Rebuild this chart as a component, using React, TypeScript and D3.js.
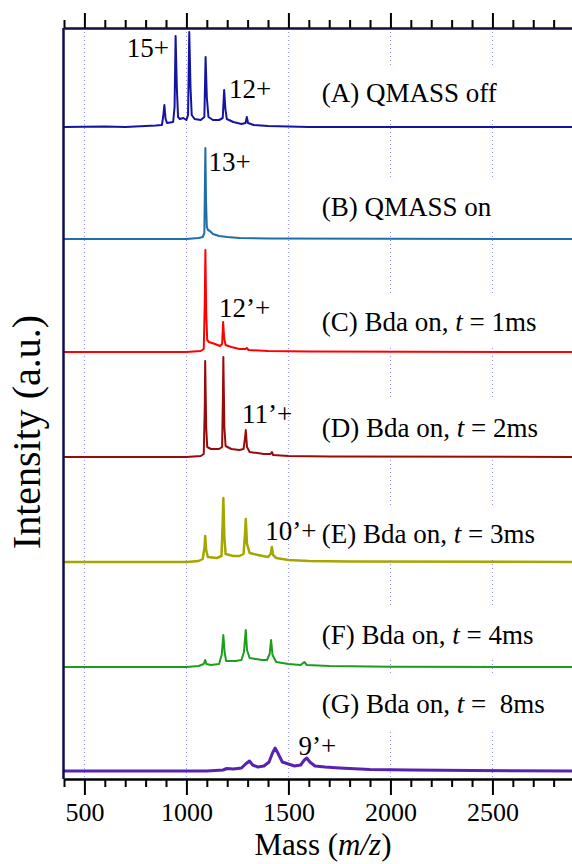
import React, { useEffect, useRef } from 'react';
import * as d3 from 'd3';

// spectra: [m/z, intensity above the trace's own baseline]
const traceA: [number, number][] = [
  [400, 0], [600, 0.5], [700, 0], [800, 1], [850, 1.5], [880, 2], [886, 10], [892, 22], [898, 8],
  [905, 4], [935, 5], [942, 20], [947, 91], [953, 40], [959, 10], [968, 8], [985, 9], [1000, 7],
  [1008, 12], [1014, 95], [1020, 40], [1026, 12], [1040, 8], [1070, 7], [1088, 10], [1094, 70],
  [1100, 30], [1108, 10], [1130, 7], [1160, 7], [1178, 9], [1185, 37], [1191, 18], [1198, 8],
  [1230, 5], [1270, 3], [1290, 4], [1296, 10], [1302, 4], [1330, 2], [1400, 1], [1500, 0.5],
  [1600, 0], [2890, 0],
];
const traceB: [number, number][] = [
  [400, 0], [900, 0], [1000, 0], [1060, 1], [1080, 2], [1088, 6], [1091, 60], [1093, 91],
  [1096, 40], [1100, 12], [1106, 9], [1115, 8], [1130, 5], [1160, 3], [1200, 2], [1260, 1],
  [1400, 0.5], [2890, 0],
];
const traceC: [number, number][] = [
  [400, 0], [1000, 0], [1070, 1], [1085, 3], [1090, 50], [1093, 102], [1097, 40], [1102, 12],
  [1110, 10], [1140, 8], [1165, 6], [1175, 8], [1180, 30], [1185, 14], [1192, 7], [1220, 5],
  [1260, 3], [1290, 3], [1296, 4], [1305, 2], [1400, 1], [1600, 0.5], [2890, 0],
];
const traceD: [number, number][] = [
  [400, 0], [1000, 0], [1070, 1], [1085, 3], [1090, 50], [1092, 96], [1097, 30], [1102, 10],
  [1120, 8], [1160, 8], [1175, 10], [1179, 60], [1181, 100], [1186, 30], [1192, 11], [1220, 8],
  [1260, 7], [1280, 8], [1288, 20], [1291, 27], [1297, 10], [1310, 5], [1380, 3], [1412, 3],
  [1419, 5], [1425, 2], [1500, 1], [1700, 0.5], [2890, 0],
];
const traceE: [number, number][] = [
  [400, 0], [1000, 0], [1060, 1], [1080, 3], [1089, 15], [1092, 26], [1097, 12], [1105, 5],
  [1150, 4], [1172, 6], [1178, 40], [1181, 64], [1186, 25], [1192, 8], [1230, 6], [1260, 6],
  [1280, 8], [1288, 30], [1291, 43], [1297, 18], [1310, 9], [1350, 7], [1400, 5], [1413, 8],
  [1419, 15], [1425, 7], [1440, 4], [1500, 2], [1600, 1], [1800, 0.5], [2890, 0],
];
const traceF: [number, number][] = [
  [400, 0], [1000, 0], [1060, 1], [1085, 3], [1092, 7], [1098, 3], [1120, 2], [1160, 3],
  [1173, 12], [1181, 32], [1187, 15], [1195, 6], [1240, 6], [1270, 7], [1282, 15], [1291, 37],
  [1297, 17], [1310, 9], [1340, 8], [1370, 7], [1395, 7], [1408, 13], [1415, 27], [1422, 12],
  [1440, 5], [1500, 3], [1560, 2], [1578, 5], [1590, 2], [1700, 1], [2000, 0.3], [2890, 0],
];
const traceG: [number, number][] = [
  [400, 0], [1100, 0], [1180, 1], [1198, 2.5], [1230, 2], [1270, 3], [1290, 7], [1309, 10],
  [1325, 6], [1350, 4], [1380, 5], [1405, 9], [1422, 18], [1435, 23], [1448, 18], [1470, 9],
  [1500, 7], [1530, 5], [1560, 6], [1578, 11], [1590, 13], [1605, 9], [1630, 5], [1680, 4],
  [1750, 3], [1800, 2.5], [1900, 1.5], [2100, 1], [2400, 0.5], [2890, 0],
];

const traces = [traceA, traceB, traceC, traceD, traceE, traceF, traceG];
// vertical offset of each trace (stacked display)
const offsets = [644, 532, 419, 314, 209, 104, 0];
const colors = ['#1414a0', '#1f6ea8', '#ff0000', '#990a0a', '#a6a600', '#1c9e1c', '#5a22b0'];
const widths = [2, 2, 2, 2, 2.5, 2, 3];

const panelLabels = [
  ['(A) QMASS off'],
  ['(B) QMASS on'],
  ['(C) Bda on, ', '1ms'],
  ['(D) Bda on, ', '2ms'],
  ['(E) Bda on, ', '3ms'],
  ['(F) Bda on, ', '4ms'],
  ['(G) Bda on, ', ' 8ms'],
];
const panelLabelLevels = [25, 23, 21, 20, 19, 23, 58];
const panelLabelMass = 1663;

const peakLabels = [
  { text: '15+', trace: 0, mass: 708, level: 70 },
  { text: '12+', trace: 0, mass: 1209, level: 29 },
  { text: '13+', trace: 1, mass: 1108, level: 68 },
  { text: '12’+', trace: 2, mass: 1160, level: 35 },
  { text: '11’+', trace: 3, mass: 1272, level: 34 },
  { text: '10’+', trace: 4, mass: 1386, level: 22 },
  { text: '9’+', trace: 6, mass: 1549, level: 16 },
];

const gridMasses = [500, 1000, 1500, 2000, 2500];
const majorTicks = [500, 1000, 1500, 2000, 2500];
const minorTicks = d3.range(400, 2900, 100).filter((d) => d % 500 !== 0);

const FONT = '"Liberation Serif", "Times New Roman", serif';

export default function App() {
  const svgRef = useRef<SVGSVGElement>(null);
  const width = 572;
  const height = 864;
  const left = 64;
  const top = 28;
  const bottom = 779;

  const x = d3.scaleLinear().domain([400, 2890]).range([left, width]);
  const y = d3.scaleLinear().domain([0, 644]).range([771, 127]);

  useEffect(() => {
    const svg = d3.select(svgRef.current);

    const styleAxis = (g: any) => {
      g.select('.domain').attr('stroke', '#000').attr('stroke-width', 2);
      g.selectAll('.tick line').attr('stroke', '#000').attr('stroke-width', 2);
    };

    svg
      .select('.x-bottom-minor')
      .attr('transform', `translate(0, ${bottom})`)
      .call(d3.axisBottom(x).tickValues(minorTicks).tickSize(8).tickSizeOuter(0).tickFormat(() => '') as any)
      .call(styleAxis);
    svg
      .select('.x-bottom-major')
      .attr('transform', `translate(0, ${bottom})`)
      .call(
        d3
          .axisBottom(x)
          .tickValues(majorTicks)
          .tickSize(16)
          .tickSizeOuter(0)
          .tickPadding(8)
          .tickFormat(d3.format('d')) as any
      )
      .call(styleAxis)
      .call((g: any) =>
        g
          .selectAll('.tick text')
          .attr('fill', '#000')
          .style('font-family', FONT)
          .style('font-size', '26px')
      );
    svg
      .select('.x-top-minor')
      .attr('transform', `translate(0, ${top})`)
      .call(d3.axisTop(x).tickValues(minorTicks).tickSize(8).tickSizeOuter(0).tickFormat(() => '') as any)
      .call(styleAxis);
    svg
      .select('.x-top-major')
      .attr('transform', `translate(0, ${top})`)
      .call(d3.axisTop(x).tickValues(majorTicks).tickSize(15).tickSizeOuter(0).tickFormat(() => '') as any)
      .call(styleAxis)
      .call((g: any) => g.select('.domain').attr('stroke', '#1a1040'));
  }, []);

  const line = d3
    .line<[number, number]>()
    .x((d) => x(d[0]))
    .y((d) => d[1]);

  return (
    <svg
      ref={svgRef}
      width={width}
      height={height}
      style={{ position: 'absolute', left: 0, top: 0, background: '#fff' }}
    >
      {gridMasses.map((m) => (
        <line
          key={m}
          x1={x(m)}
          x2={x(m)}
          y1={top}
          y2={bottom}
          stroke="#8a8aff"
          strokeWidth={1}
          strokeDasharray="1,3"
        />
      ))}
      {panelLabelLevels.map((lv, i) => {
        const base = y(offsets[i] + lv);
        return <rect key={i} x={300} y={base - 37} width={width - 300} height={53} fill="#fff" />;
      })}
      {traces.map((t, i) => (
        <path
          key={i}
          d={line(t.map((d) => [d[0], y(d[1] + offsets[i])]) as [number, number][]) || ''}
          fill="none"
          stroke={colors[i]}
          strokeWidth={widths[i]}
          strokeLinejoin="round"
        />
      ))}
      <g style={{ fontFamily: FONT, fontSize: 27 }} fill="#000">
        {panelLabels.map((parts, i) => (
          <text
            key={i}
            x={x(panelLabelMass)}
            y={y(offsets[i] + panelLabelLevels[i])}
            style={{ whiteSpace: 'pre' }}
          >
            {parts[0]}
            {parts.length > 1 && (
              <>
                <tspan fontStyle="italic">t</tspan>
                {' = '}
                {parts[1]}
              </>
            )}
          </text>
        ))}
        {peakLabels.map((p) => (
          <text key={p.text} x={x(p.mass)} y={y(offsets[p.trace] + p.level)}>
            {p.text}
          </text>
        ))}
      </g>
      <line x1={left - 0.5} x2={left - 0.5} y1={top} y2={bottom} stroke="#0c0c50" strokeWidth={2.5} />
      <g className="x-bottom-minor" />
      <g className="x-bottom-major" />
      <g className="x-top-minor" />
      <g className="x-top-major" />
      <text
        transform={`translate(40, 432) rotate(-90)`}
        textAnchor="middle"
        style={{ fontFamily: FONT, fontSize: 40 }}
        fill="#000"
      >
        Intensity (a.u.)
      </text>
      <text
        x={323}
        y={855}
        textAnchor="middle"
        style={{ fontFamily: FONT, fontSize: 31 }}
        fill="#000"
      >
        Mass (<tspan fontStyle="italic">m/z</tspan>)
      </text>
    </svg>
  );
}
